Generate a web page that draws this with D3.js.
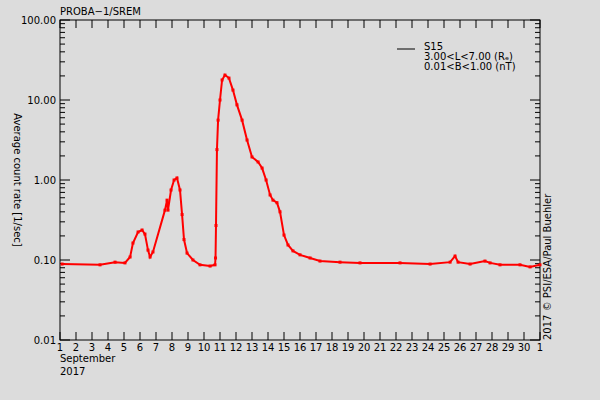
<!DOCTYPE html>
<html><head><meta charset="utf-8">
<script src="https://cdn.jsdelivr.net/npm/d3@7"></script>
<style>body{margin:0;background:#dcdcdc}svg{display:block}text{font-family:"DejaVu Sans",sans-serif;font-size:10px;fill:#000}</style>
</head><body><svg id="c" width="600" height="400"></svg>
<script>
// day of September 2017 (fractional) and count rate
const days = [1.13,3.5,4.44,5.06,5.38,5.56,5.88,6.13,6.31,6.5,6.63,6.81,7.56,7.69,7.75,7.94,8.13,8.31,8.5,8.63,8.75,8.94,9.31,9.75,10.38,10.69,10.72,10.75,10.81,10.88,11.0,11.13,11.31,11.56,11.81,12.06,12.38,12.69,13.0,13.38,13.63,13.88,14.13,14.31,14.56,14.75,15.0,15.25,15.56,16.0,16.63,17.25,18.5,19.75,22.25,24.13,25.38,25.69,25.88,26.63,27.56,27.88,28.5,29.75,30.38,31.0];
const rates = [0.089,0.087,0.094,0.092,0.109,0.163,0.224,0.237,0.211,0.133,0.109,0.126,0.42,0.56,0.42,0.75,1.0,1.06,0.75,0.37,0.18,0.122,0.1,0.087,0.084,0.087,0.106,0.27,2.4,5.6,10,17.8,20.5,18.8,13.3,8.7,5.6,3.16,1.94,1.68,1.41,1.0,0.65,0.56,0.52,0.4,0.205,0.154,0.13,0.116,0.106,0.097,0.094,0.092,0.092,0.089,0.094,0.112,0.094,0.089,0.097,0.092,0.087,0.087,0.082,0.087];
const dayTicks = d3.range(1, 32);
const dayLabels = dayTicks.map(d => d === 31 ? "1" : String(d));
const yTicks = [0.01, 0.1, 1, 10, 100];
const yLabels = ["0.01", "0.10", "1.00", "10.00", "100.00"];

const L = 60, R = 540, T = 20, B = 340;
const svg = d3.select("#c");
const x = d3.scaleLinear().domain([1, 31]).range([L, R]);
const y = d3.scaleLog().domain([0.01, 100]).range([B, T]);

svg.append("rect").attr("x", L).attr("y", T).attr("width", R - L).attr("height", B - T)
  .attr("fill", "none").attr("stroke", "#000");

// y ticks, both sides
const minor = [];
[0.01, 0.1, 1, 10].forEach(b => { for (let k = 2; k < 10; k++) minor.push(b * k); });
const g = svg.append("g").attr("stroke", "#000");
[[L, 1], [R, -1]].forEach(([x0, s]) => {
  yTicks.forEach(v => g.append("line").attr("x1", x0).attr("x2", x0 + s * 10).attr("y1", y(v)).attr("y2", y(v)));
  minor.forEach(v => g.append("line").attr("x1", x0).attr("x2", x0 + s * 5).attr("y1", y(v)).attr("y2", y(v)));
});
dayTicks.forEach(d => {
  g.append("line").attr("x1", x(d)).attr("x2", x(d)).attr("y1", B).attr("y2", B - 8);
  g.append("line").attr("x1", x(d)).attr("x2", x(d)).attr("y1", T).attr("y2", T + 8);
});
yTicks.forEach((v, i) => svg.append("text").attr("x", L - 4).attr("y", y(v) + 4)
  .attr("text-anchor", "end").text(yLabels[i]));
dayTicks.forEach((d, i) => svg.append("text").attr("x", x(d)).attr("y", B + 11)
  .attr("text-anchor", "middle").text(dayLabels[i]));
svg.append("text").attr("x", L).attr("y", B + 22).text("September");
svg.append("text").attr("x", L).attr("y", B + 35).text("2017");
svg.append("text").attr("x", L).attr("y", 15).text("PROBA\u22121/SREM");
svg.append("text").attr("transform", `translate(14,${(T + B) / 2}) rotate(90)`)
  .attr("text-anchor", "middle").text("Average count rate [1/sec]");
svg.append("text").attr("transform", `translate(551,${B}) rotate(-90)`)
  .attr("font-size", "9px").text("2017 \u00a9 PSI/ESA/Paul Buehler");

// data
const line = d3.line().x((d, i) => x(days[i])).y((d, i) => y(rates[i]));
svg.append("path").attr("d", line(rates)).attr("fill", "none").attr("stroke", "#f00").attr("stroke-width", 2);
svg.selectAll(".m").data(rates).enter().append("rect")
  .attr("x", (d, i) => x(days[i]) - 1.5).attr("y", d => y(d) - 1.5)
  .attr("width", 3).attr("height", 3).attr("fill", "#f00");

// legend
svg.append("line").attr("x1", 397).attr("x2", 415).attr("y1", 49).attr("y2", 49).attr("stroke", "#000");
svg.append("text").attr("x", 424).attr("y", 50).text("S15");
svg.append("text").attr("x", 424).attr("y", 60).text("3.00<L<7.00 (R\u2091)");
svg.append("text").attr("x", 424).attr("y", 70).text("0.01<B<1.00 (nT)");
</script></body></html>
